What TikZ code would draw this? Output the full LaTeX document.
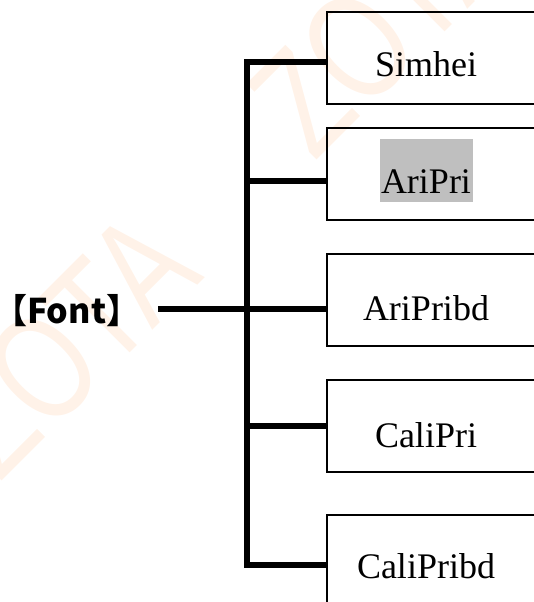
\documentclass[tikz,border=0pt]{standalone}
\usepackage{fontspec}
\setmainfont{Liberation Serif}
\newfontfamily\cjk{Noto Sans CJK SC}
\newfontfamily\wmfont{Liberation Sans}
\definecolor{wm}{RGB}{255,242,232}
\definecolor{hl}{RGB}{191,191,191}
\begin{document}
\begin{tikzpicture}[x=1pt,y=-1pt,
  frame/.style={draw=black, line width=1.2pt, inner sep=0pt, outer sep=0pt,
    anchor=north west, minimum width=240pt, minimum height=92pt},
  conn/.style={line width=5.5pt, line cap=butt, line join=miter},
  boxtext/.style={font=\fontsize{36}{40}\selectfont, inner sep=0pt, anchor=base},
  wmtext/.style={text=wm, inner sep=0pt, font=\wmfont\fontsize{150}{150}\selectfont, rotate=45}
  ]
\useasboundingbox (0,0) rectangle (533,602);
% watermark
\node[wmtext] (wm1) at (66,344) {\scalebox{0.75}[1]{ZOTA}};
\node[wmtext] (wm2) at (381,23) {\scalebox{0.75}[1]{ZOTA}};
% boxes
\node[frame] (b1) at (327,12) {};
\node[frame] (b2) at (327,128) {};
\node[frame] (b3) at (327,254) {};
\node[frame] (b4) at (327,380) {};
\node[frame] (b5) at (327,515) {};
% highlight
\node[fill=hl, inner sep=0pt, minimum width=93pt, minimum height=63pt] (hlbox) at (426.5,170.5) {};
% texts
\node[boxtext] (t1) at (426,77) {Simhei};
\node[boxtext] (t2) at (426,193) {AriPri};
\node[boxtext] (t3) at (426,320) {AriPribd};
\node[boxtext] (t4) at (426,447) {CaliPri};
\node[boxtext] (t5) at (426,578) {CaliPribd};
\node[inner sep=0pt, anchor=base west, font=\cjk\bfseries\fontsize{34}{38}\selectfont] (font) at (-7,323) {【Font】};
% junctions
\coordinate (j1) at (247,62);
\coordinate (j2) at (247,181);
\coordinate (j3) at (247,309);
\coordinate (j4) at (247,426);
\coordinate (j5) at (247,565);
\coordinate (fs) at (158,309);
% connectors
\draw[conn] (j1 -| b1.west) -- (j1) -- (j5) -- (j5 -| b5.west);
\draw[conn] (j2) -- (j2 -| b2.west);
\draw[conn] (fs) -- (j3) -- (j3 -| b3.west);
\draw[conn] (j4) -- (j4 -| b4.west);
\end{tikzpicture}
\end{document}
